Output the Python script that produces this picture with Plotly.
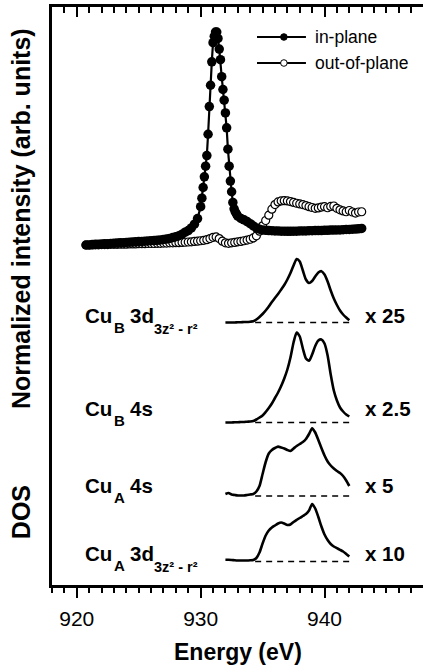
import numpy as np
import plotly.graph_objects as go

# ---------------- data ----------------
# XAS, in-plane (normalized intensity, peak = 1)
IP_E = np.r_[np.arange(920.75, 929.76, 0.25), np.arange(930.0, 932.95, 0.1), np.arange(933.0, 943.01, 0.25)]
IP_I = [0.000, 0.000, 0.002, 0.003, 0.004, 0.005, 0.006, 0.006, 0.007, 0.008,
        0.009, 0.010, 0.011, 0.012, 0.013, 0.014, 0.015, 0.016, 0.017, 0.018,
        0.019, 0.020, 0.021, 0.022, 0.024, 0.026, 0.028, 0.031, 0.035, 0.039,
        0.044, 0.051, 0.060, 0.068, 0.080, 0.098, 0.124,
        0.18, 0.22, 0.27, 0.32, 0.37, 0.42, 0.52, 0.65, 0.75, 0.86,
        0.95, 0.98, 1.00, 1.00, 0.97, 0.92, 0.87, 0.79, 0.73, 0.68,
        0.62, 0.55, 0.45, 0.37, 0.30, 0.25, 0.20, 0.17, 0.155, 0.145,
        0.135, 0.125, 0.118, 0.110, 0.100, 0.090, 0.080, 0.074, 0.071, 0.069,
        0.068, 0.067, 0.066, 0.066, 0.065, 0.065, 0.064, 0.064, 0.065, 0.065,
        0.066, 0.066, 0.066, 0.067, 0.067, 0.068, 0.068, 0.068, 0.069, 0.069,
        0.070, 0.070, 0.071, 0.071, 0.072, 0.073, 0.073, 0.074, 0.075, 0.076,
        0.078]

# XAS, out-of-plane
OOP_E = np.arange(920.75, 943.01, 0.25)
OOP_I = [0.000, 0.000, 0.000, 0.001, 0.001, 0.002, 0.002, 0.002, 0.003, 0.003,
         0.003, 0.004, 0.004, 0.004, 0.005, 0.005, 0.005, 0.006, 0.006, 0.006,
         0.007, 0.007, 0.007, 0.008, 0.008, 0.009, 0.009, 0.010, 0.010, 0.011,
         0.011, 0.012, 0.013, 0.014, 0.015, 0.017, 0.018,
         0.020, 0.022, 0.025, 0.030, 0.036, 0.038, 0.030, 0.018, 0.010, 0.008,
         0.010, 0.012, 0.015, 0.017, 0.020, 0.023, 0.027, 0.033, 0.043, 0.065,
         0.090, 0.115, 0.140, 0.168, 0.190, 0.202, 0.207, 0.208, 0.207, 0.204,
         0.200, 0.196, 0.193, 0.190, 0.185, 0.180, 0.176, 0.172, 0.174, 0.178,
         0.180, 0.175, 0.181, 0.183, 0.172, 0.165, 0.160, 0.156, 0.162, 0.155,
         0.150, 0.155, 0.156]

# DOS (arb. units, already multiplied by the factors shown)
DOS_E = np.arange(932.0, 942.01, 0.25)
DOS_CUB_3D = [0, 0, 0, 0, 0.3, 0.3, 0.5, 0.5, 0.8, 1.2,
              3, 5.5, 8.5, 12, 16, 20.5, 24.5, 28.5, 33, 37.5,
              43, 49.5, 57, 63.5, 61, 52, 43, 39.5, 41.5, 46,
              50, 51.3, 48, 41, 32, 24, 17.5, 12, 8, 5, 2.3]
DOS_CUB_4S = [0, 0, 0, 0.3, 0.3, 0.5, 0.5, 0.8, 1, 1.5,
              3, 5, 7, 10.5, 14.5, 19, 24.5, 30, 36.5, 44,
              53, 65, 80, 90, 86, 74, 64, 61.7, 68, 76.5,
              82, 83, 79, 67, 48, 32, 22, 15, 11, 8, 6]
DOS_CUA_4S = [2, 3, 1.5, 1, 0.5, 0.5, 0.5, 1, 1.5, 2,
              4.5, 10, 22, 34, 42.5, 46, 48, 49.4, 48.5, 47.5,
              46, 45, 47.5, 50, 52, 54, 57, 62, 67.7, 63.5,
              56, 48, 40.5, 34.5, 30.5, 27.5, 25, 23, 20, 15.5, 10]
DOS_CUA_3D = [1.7, 1.7, 1.5, 1.2, 1, 1, 1, 1, 1.2, 1.5,
              3.5, 9, 18, 26, 31, 34, 36, 38, 39, 38,
              36.5, 37, 39.5, 41.7, 43.5, 45.5, 47.5, 51, 57.5, 53,
              44.5, 35, 27, 21.5, 17.5, 15, 13.3, 11.7, 10, 7.5, 5]

DOS_SERIES = [DOS_CUB_3D, DOS_CUB_4S, DOS_CUA_4S, DOS_CUA_3D]
DOS_ATOM = ["B", "B", "A", "A"]
DOS_ORBITAL = ["3d", "4s", "4s", "3d"]
DOS_SUBORB = ["3z² - r²", "", "", "3z² - r²"]
DOS_FACTOR = ["x 25", "x 2.5", "x 5", "x 10"]

# ---------------- layout constants ----------------
XAS_SCALE = 213.0
DOS_OFFSET = [-77.5, -177.5, -251.0, -316.5]
LABEL_Y = [-70, -163, -240, -308]
DASH_START = 934.4
FONT = "Arial, 'Liberation Sans', Helvetica, sans-serif"
X_RANGE = [918, 947.95]
Y_RANGE = [-340, 238]

fig = go.Figure()

# DOS baselines (dashed) and curves
for off, vals in zip(DOS_OFFSET, DOS_SERIES):
    fig.add_trace(go.Scatter(x=[DASH_START, DOS_E[-1]], y=[off, off], mode="lines",
                             line=dict(color="black", width=1.4, dash="6px,5px"),
                             showlegend=False, hoverinfo="skip"))
    fig.add_trace(go.Scatter(x=DOS_E, y=np.array(vals) + off, mode="lines",
                             line=dict(color="black", width=2.6, shape="spline", smoothing=0.6),
                             showlegend=False, hoverinfo="skip"))

# XAS spectra
fig.add_trace(go.Scatter(x=OOP_E, y=np.array(OOP_I) * XAS_SCALE, mode="lines+markers",
                         line=dict(color="black", width=2),
                         marker=dict(symbol="circle", size=8, color="white",
                                     line=dict(color="black", width=1.2)),
                         showlegend=False, name="out-of-plane"))
fig.add_trace(go.Scatter(x=IP_E, y=np.array(IP_I) * XAS_SCALE, mode="lines+markers",
                         line=dict(color="black", width=2.2),
                         marker=dict(symbol="circle", size=9.5, color="black"),
                         showlegend=False, name="in-plane"))

# invisible trace to anchor the top axis
fig.add_trace(go.Scatter(x=[IP_E[0]], y=[0], xaxis="x2", mode="markers",
                         marker=dict(opacity=0), showlegend=False, hoverinfo="skip"))

ann = []
def lab(x, y, text, size, bold=True, xanchor="left", xref="x", yref="y", angle=0):
    ann.append(dict(x=x, y=y, xref=xref, yref=yref, text=(f"<b>{text}</b>" if bold else text),
                    showarrow=False, xanchor=xanchor, yanchor="middle", textangle=angle,
                    font=dict(family=FONT, size=size, color="black")))

for i in range(4):
    yl = LABEL_Y[i]
    lab(920.5, yl, "Cu", 20.5)
    lab(922.85, yl - 12.5, DOS_ATOM[i], 15)
    lab(924.13, yl, DOS_ORBITAL[i], 20.5)
    if DOS_SUBORB[i]:
        lab(926.1, yl - 14, DOS_SUBORB[i], 14.5)
    lab(943.1, yl, DOS_FACTOR[i], 20.5)

# axis titles
lab(-0.0836, 0.635, "Normalized intensity (arb. units)", 25, xanchor="center", xref="paper", yref="paper", angle=-90)
lab(-0.0836, 0.126, "DOS", 25, xanchor="center", xref="paper", yref="paper", angle=-90)
lab(0.5, -0.1154, "Energy (eV)", 23, xanchor="center", xref="paper", yref="paper")

# legend (drawn manually)
LEG_Y = [208, 182]
shapes = []
for k, (yy, txt, fill) in enumerate(zip(LEG_Y, ["in-plane", "out-of-plane"], ["black", "white"])):
    shapes.append(dict(type="line", xref="x", yref="y", x0=934.55, x1=938.5, y0=yy, y1=yy,
                       line=dict(color="black", width=2)))
    shapes.append(dict(type="circle", xref="x", yref="y", xsizemode="pixel", ysizemode="pixel",
                       xanchor=936.72, yanchor=yy, x0=-3.3, x1=3.3, y0=-3.3, y1=3.3,
                       fillcolor=fill, line=dict(color="black", width=1)))
    lab(939.07, yy, txt, 17.5, bold=False)

axis_common = dict(range=X_RANGE, showgrid=False, zeroline=False, showline=True,
                   linecolor="black", linewidth=2.5, tickcolor="black")

fig.update_layout(
    width=423, height=668,
    margin=dict(l=52, r=0, t=7, b=83),
    paper_bgcolor="white", plot_bgcolor="white",
    showlegend=False,
    xaxis=dict(**axis_common, ticks="outside", ticklen=10, tickwidth=2,
               tick0=920, dtick=10, ticklabelstandoff=3,
               tickfont=dict(family=FONT, size=21, color="black"),
               minor=dict(ticks="outside", ticklen=5, tickwidth=1.6, dtick=1, tick0=920,
                          tickcolor="black")),
    xaxis2=dict(**axis_common, overlaying="x", side="top", anchor="y",
                ticks="inside", ticklen=10, tickwidth=2, tick0=920, dtick=10,
                showticklabels=False,
                minor=dict(ticks="inside", ticklen=6, tickwidth=1.6, dtick=1, tick0=920,
                           tickcolor="black")),
    yaxis=dict(range=Y_RANGE, showgrid=False, zeroline=False, showline=True,
               linecolor="black", linewidth=2.5, ticks="", showticklabels=False),
    annotations=ann,
    shapes=shapes,
)

fig.write_html("out.html", config={"displayModeBar": False},
               post_script="document.body.style.margin='0';document.body.style.overflow='hidden';")
